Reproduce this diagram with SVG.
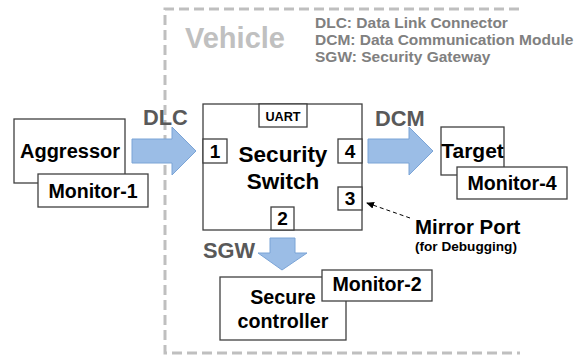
<svg xmlns="http://www.w3.org/2000/svg" width="585" height="359" viewBox="0 0 585 359">
<style>
text{font-family:"Liberation Sans",Arial,sans-serif;font-weight:bold}
.box{fill:#fff;stroke:#404040;stroke-width:1.3}
.lbl{fill:#000;text-anchor:middle}
.mon{font-size:19.6px}
.num{font-size:19px}
.gray{fill:#595959;font-size:21.8px}
.leg{fill:#808080;font-size:15.5px}
.arr{fill:#9BBDE6;stroke:#7BA4D6;stroke-width:1}
</style>
<defs>
<marker id="ah" markerWidth="8" markerHeight="8" refX="7" refY="4" orient="auto" markerUnits="userSpaceOnUse">
<path d="M0,0.5 L8,4 L0,7.5 Z" fill="#000"/>
</marker>
</defs>
<g id="vehicle">
<path d="M519,9 H165 V353 H520" fill="none" stroke="#BFBFBF" stroke-width="3" stroke-dasharray="10,5"/>
<text x="185" y="48" style="font-size:29px;fill:#C0C0C0">Vehicle</text>
</g>
<g id="legend">
<text class="leg" x="315" y="28">DLC: Data Link Connector</text>
<text class="leg" x="315" y="45">DCM: Data Communication Module</text>
<text class="leg" x="315" y="62">SGW: Security Gateway</text>
</g>
<g id="connectors">
<path id="dlc-arrow" class="arr" d="M132,139 H172 V127 L196,151 L172,175 V163 H132 Z"/>
<path id="dcm-arrow" class="arr" d="M368,139 H409 V127 L433,151 L409,175 V163 H368 Z"/>
<path id="sgw-arrow" class="arr" d="M270,238 H295 V253 H307 L282,270 L258,253 H270 Z"/>
<line id="mirror-arrow" x1="410" y1="218" x2="367" y2="203" stroke="#000" stroke-width="1" stroke-dasharray="4,3" marker-end="url(#ah)"/>
<text class="gray" x="143" y="125">DLC</text>
<text class="gray" x="375" y="126">DCM</text>
<text class="gray" x="203" y="258">SGW</text>
</g>
<g id="aggressor">
<rect class="box" x="14" y="119" width="111" height="64"/>
<text class="lbl" x="70" y="158" style="font-size:20px">Aggressor</text>
</g>
<g id="monitor-1">
<rect class="box" x="38" y="174" width="110" height="33"/>
<text class="lbl mon" x="93" y="198">Monitor-1</text>
</g>
<g id="security-switch">
<rect class="box" x="203" y="104" width="159" height="126"/>
<text class="lbl" x="283" y="162" style="font-size:22.5px">Security</text>
<text class="lbl" x="283" y="189" style="font-size:22.5px">Switch</text>
</g>
<g id="uart">
<rect class="box" x="259" y="104" width="48" height="23"/>
<text class="lbl" x="283" y="121" style="font-size:12.7px">UART</text>
</g>
<g id="port-1">
<rect class="box" x="203" y="139" width="24" height="24"/>
<text class="lbl num" x="215" y="158">1</text>
</g>
<g id="port-4">
<rect class="box" x="338" y="139" width="24" height="24"/>
<text class="lbl num" x="350" y="158">4</text>
</g>
<g id="port-3">
<rect class="box" x="338" y="187" width="24" height="23"/>
<text class="lbl num" x="350" y="205">3</text>
</g>
<g id="port-2">
<rect class="box" x="271" y="207" width="23" height="23"/>
<text class="lbl num" x="282.5" y="225">2</text>
</g>
<g id="target">
<rect class="box" x="441" y="127" width="63" height="48"/>
<text class="lbl" x="472.5" y="158" style="font-size:21px">Target</text>
</g>
<g id="monitor-4">
<rect class="box" x="457" y="167" width="110" height="32"/>
<text class="lbl mon" x="512" y="190">Monitor-4</text>
</g>
<g id="mirror-port">
<text x="415" y="234" style="font-size:20.4px;fill:#000">Mirror Port</text>
<text x="415" y="251" style="font-size:13.6px;fill:#000">(for Debugging)</text>
</g>
<g id="secure-controller">
<rect class="box" x="220" y="277" width="126" height="63"/>
<text class="lbl" x="283" y="304" style="font-size:19.7px">Secure</text>
<text class="lbl" x="283" y="328" style="font-size:19.7px">controller</text>
</g>
<g id="monitor-2">
<rect class="box" x="322" y="270" width="110" height="31"/>
<text class="lbl mon" x="377" y="291">Monitor-2</text>
</g>
</svg>
